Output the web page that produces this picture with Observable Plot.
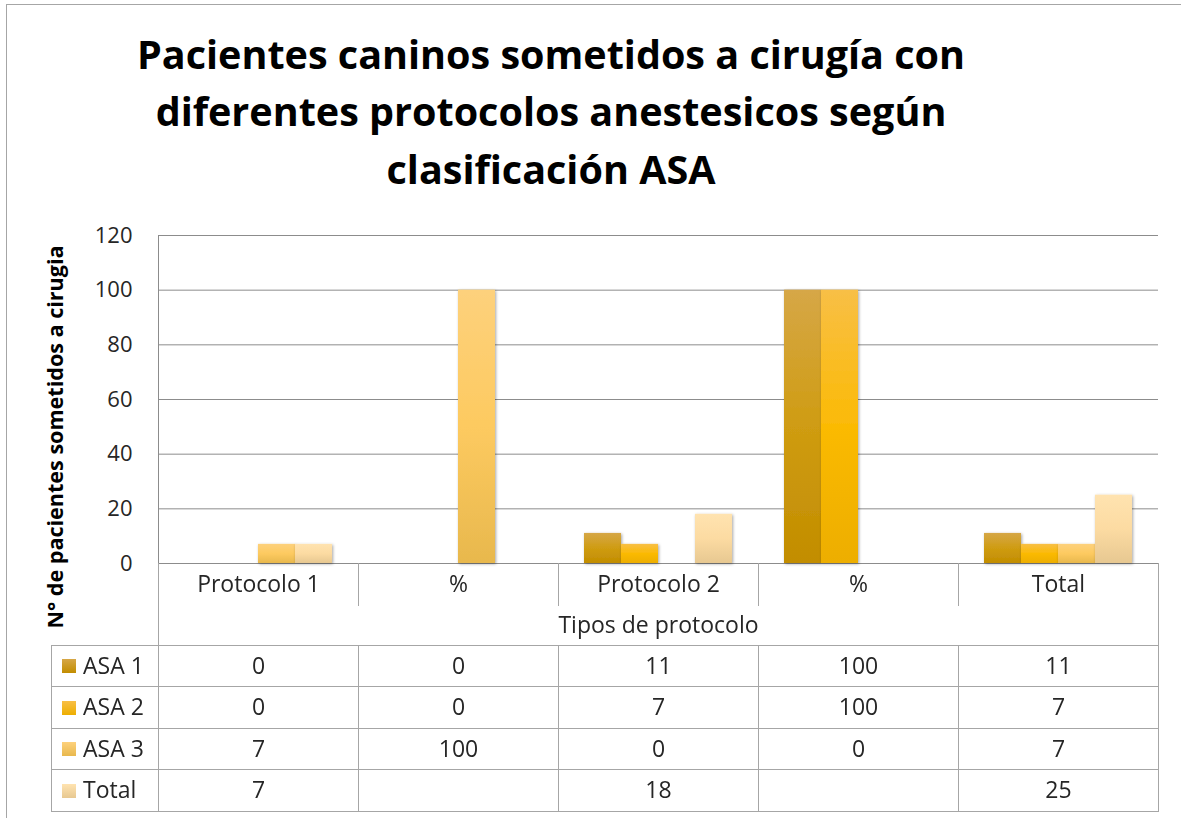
<!DOCTYPE html>
<html><head><meta charset="utf-8">
<script src="https://cdn.jsdelivr.net/npm/d3@7"></script>
<script src="https://cdn.jsdelivr.net/npm/@observablehq/plot@0.6"></script>
<style>
html,body{margin:0;padding:0;background:#fff;overflow:hidden;}
#root{position:relative;width:1181px;height:818px;font-family:"Open Sans",sans-serif;color:#262626;overflow:hidden;}
.abs{position:absolute;white-space:nowrap;}
.cell{position:absolute;box-sizing:border-box;border:0 solid #a6a6a6;display:flex;align-items:center;justify-content:center;font-size:23px;color:#262626;white-space:nowrap;padding-bottom:3px;}
</style></head><body>
<svg width="0" height="0" style="position:absolute">
<defs>
 <linearGradient id="g0" x1="0" y1="0" x2="0" y2="1"><stop offset="0" stop-color="#D6A747"/><stop offset="0.5" stop-color="#CF9C12"/><stop offset="1" stop-color="#C28D00"/></linearGradient>
 <linearGradient id="g1" x1="0" y1="0" x2="0" y2="1"><stop offset="0" stop-color="#F8BF46"/><stop offset="0.5" stop-color="#FBBA05"/><stop offset="1" stop-color="#EDAE00"/></linearGradient>
 <linearGradient id="g2" x1="0" y1="0" x2="0" y2="1"><stop offset="0" stop-color="#FDD17C"/><stop offset="0.5" stop-color="#FDCA60"/><stop offset="1" stop-color="#E8B84D"/></linearGradient>
 <linearGradient id="g3" x1="0" y1="0" x2="0" y2="1"><stop offset="0" stop-color="#FFE3B0"/><stop offset="0.5" stop-color="#FCDBA2"/><stop offset="1" stop-color="#E7C891"/></linearGradient>
 <filter id="shadow" x="-30%" y="-10%" width="160%" height="120%"><feDropShadow dx="1" dy="1" stdDeviation="1.6" flood-color="#000" flood-opacity="0.35"/></filter>
</defs></svg>
<div id="root"></div>
<script>
// ---- data ----
const categories = ["Protocolo 1", "%", "Protocolo 2", "%", "Total"];
const seriesNames = ["ASA 1", "ASA 2", "ASA 3", "Total"];
const asa1 = [0, 0, 11, 100, 11];
const asa2 = [0, 0, 7, 100, 7];
const asa3 = [7, 100, 0, 0, 7];
const totals = [7, null, 18, null, 25];
const yTicks = [0, 20, 40, 60, 80, 100, 120];
const titleLines = ["Pacientes caninos sometidos a cirugía con", "diferentes protocolos anestesicos según", "clasificación ASA"];
const yLabel = "N° de pacientes sometidos a cirugia";
const xLabel = "Tipos de protocolo";

const seriesValues = [asa1, asa2, asa3, totals];
const gradTop = ["#D6A747", "#F8BF46", "#FDD17C", "#FFE3B0"];
const gradBot = ["#C28D00", "#EDAE00", "#E8B84D", "#E7C891"];

const data = [];
categories.forEach((c, i) => seriesValues.forEach((arr, j) => data.push({cat: i, series: seriesNames[j], value: arr[i]})));

const root = document.getElementById("root");
const ctx = document.createElement("canvas").getContext("2d");

// frame of the chart area
const fr = document.createElement("div");
fr.className = "abs";
Object.assign(fr.style, {left: "6px", top: "4px", width: "1300px", height: "1000px", borderLeft: "1px solid #a6a6a6", borderTop: "1px solid #a6a6a6"});
root.appendChild(fr);

// title
ctx.font = "bold 40px 'Open Sans'";
const tScale = 828 / ctx.measureText(titleLines[0]).width;
const baselines = [69, 126.5, 184];
titleLines.forEach((t, i) => {
  const d = document.createElement("div");
  d.className = "abs";
  d.textContent = t;
  Object.assign(d.style, {left: "551px", top: (baselines[i] - 44.3) + "px", fontSize: "40px", fontWeight: "700", lineHeight: "57.5px", color: "#000", transform: `translateX(-50%) scaleX(${tScale})`});
  root.appendChild(d);
});

// y label
ctx.font = "bold 21px 'Open Sans'";
const yScale = 383 / ctx.measureText(yLabel).width;
const yl = document.createElement("div");
yl.className = "abs";
yl.textContent = yLabel;
Object.assign(yl.style, {left: "55px", top: "437px", fontSize: "21px", fontWeight: "700", color: "#000", transform: `translate(-50%,-50%) rotate(-90deg) scaleX(${yScale})`});
root.appendChild(yl);

// chart
const plotLeft = 158, colW = 200, plotTop = 215;
const chart = Plot.plot({
  width: 1181, height: 348, marginTop: 20, marginBottom: 0, marginLeft: plotLeft, marginRight: 23,
  style: {fontFamily: "'Open Sans', sans-serif", background: "transparent", overflow: "visible"},
  fx: {domain: d3.range(categories.length), padding: 0, axis: null},
  x: {domain: seriesNames, paddingInner: 0, paddingOuter: 0.6667, axis: null},
  y: {domain: [0, 120]},
  marks: [
    Plot.ruleY(yTicks, {stroke: "#8c8c8c", strokeWidth: 1}),
    ...seriesNames.map((s, j) => Plot.barY(data.filter(d => d.series === s && d.value != null), {fx: "cat", x: "series", y: "value", fill: `url(#g${j})`})),
    Plot.axisY({ticks: yTicks, tickSize: 0, tickPadding: 26, fontSize: 22, label: null, color: "#262626"}),
    Plot.frame({anchor: "left", facetAnchor: "left", stroke: "#8c8c8c"})
  ]
});
chart.style.position = "absolute";
chart.style.left = "0px";
chart.style.top = plotTop + "px";
chart.querySelectorAll('g[aria-label="bar"]').forEach(g => g.setAttribute("filter", "url(#shadow)"));
root.appendChild(chart);

// data table
function cell(x0, x1, y0, y1, sides, content, align) {
  const d = document.createElement("div");
  d.className = "cell";
  Object.assign(d.style, {left: x0 + "px", top: y0 + "px", width: (x1 - x0 + 1) + "px", height: (y1 - y0 + 1) + "px"});
  sides.forEach(s => d.style["border" + s + "Width"] = "1px");
  if (align) d.style.justifyContent = align;
  if (typeof content === "string") d.textContent = content; else if (content) d.appendChild(content);
  root.appendChild(d);
  return d;
}
const rowY = [563, 605, 645, 686, 728, 769, 811];
const colX = categories.map((c, i) => plotLeft + colW * i);
categories.forEach((c, i) => cell(colX[i], colX[i] + colW, rowY[0], rowY[1], ["Left", "Right"], c));
cell(plotLeft, plotLeft + colW * categories.length, rowY[1], rowY[2], ["Left", "Right", "Bottom"], xLabel);
seriesNames.forEach((s, j) => {
  const y0 = rowY[2 + j], y1 = rowY[3 + j];
  const wrap = document.createElement("span");
  wrap.style.display = "flex"; wrap.style.alignItems = "center";
  const sw = document.createElement("span");
  Object.assign(sw.style, {display: "inline-block", width: "14px", height: "14px", marginLeft: "10px", marginRight: "7px", marginTop: "3px", background: `linear-gradient(${gradTop[j]}, ${gradBot[j]})`});
  wrap.appendChild(sw);
  const tx = document.createElement("span"); tx.textContent = s; wrap.appendChild(tx);
  cell(51, plotLeft, y0, y1, ["Left", "Right", "Top", "Bottom"], wrap, "flex-start");
  categories.forEach((c, i) => {
    const v = seriesValues[j][i];
    cell(colX[i], colX[i] + colW, y0, y1, ["Left", "Right", "Top", "Bottom"], v == null ? "" : String(v));
  });
});
</script>
</body></html>
